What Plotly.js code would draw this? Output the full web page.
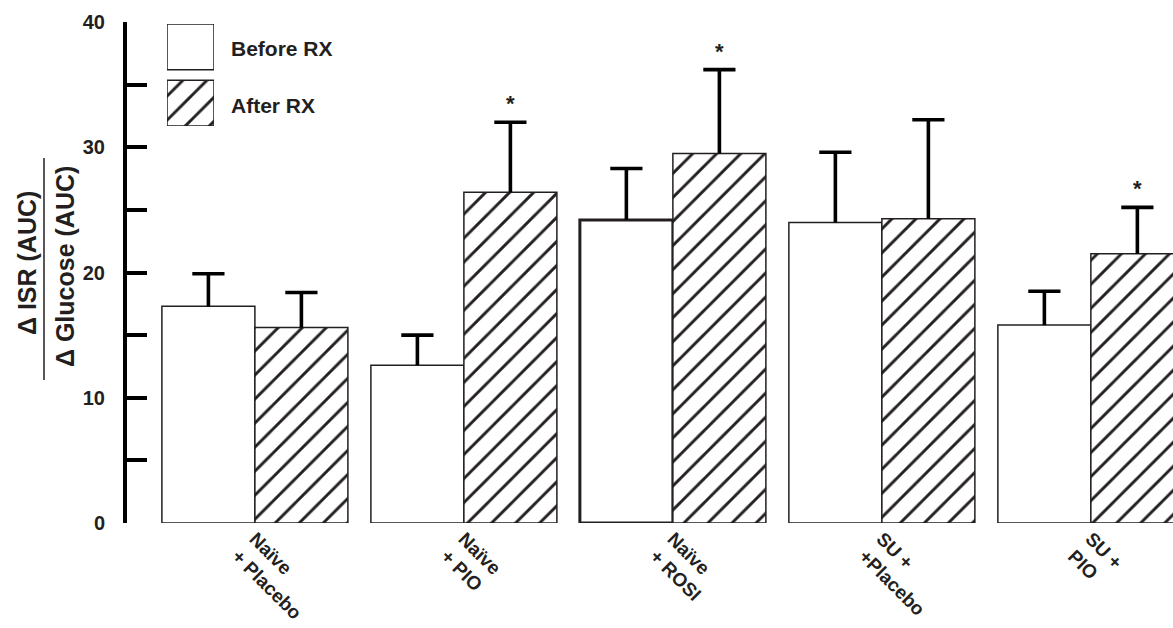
<!DOCTYPE html>
<html>
<head>
<meta charset="utf-8">
<script src="https://cdn.plot.ly/plotly-3.0.1.min.js"></script>
<style>html,body{margin:0;padding:0;background:#fff;overflow:hidden}</style>
</head>
<body>
<div id="chart" style="width:1173px;height:628px"></div>
<script>
// ---- data ----
const categories = ['Naïve<br>+ Placebo', 'Naïve<br>+ PIO', 'Naïve<br>+ ROSI', 'SU +<br>+Placebo', 'SU +<br>PIO'];
const seriesNames = ['Before RX', 'After RX'];
const beforeRX = [17.3, 12.6, 24.2, 24.0, 15.8];
const beforeSEM = [2.6, 2.4, 4.1, 5.6, 2.7];
const afterRX = [15.6, 26.4, 29.5, 24.3, 21.5];
const afterSEM = [2.8, 5.6, 6.7, 7.9, 3.7];
const significant = [false, true, true, false, true];
const yTickVals = [0, 5, 10, 15, 20, 25, 30, 35, 40];
const yTickText = ['0', '', '10', '', '20', '', '30', '', '40'];

// ---- geometry helpers (plot area in pixels) ----
const L = 127, T = 22, W = 1046, H = 501;
const px = x => (x - L) / W;
const py = y => (T + H - y) / H;
const ink = '#231f20';
const FONT = 'Liberation Sans, Arial, Helvetica, sans-serif';
const bargap = 0.11;
const barW = (1 - bargap) / 2;
const idx = categories.map((c, i) => i);
const hatch = {shape: '/', size: 17, solidity: 0.17, fgcolor: ink, bgcolor: '#ffffff', fillmode: 'replace'};

const stem = arr => ({type: 'data', symmetric: false, array: arr, arrayminus: arr.map(() => 0),
  color: '#000', thickness: 3.6, width: 0});
const capTrace = (offset, vals, sem) => ({type: 'scatter', mode: 'markers',
  x: idx.map(i => i + offset), y: vals.map((v, i) => v + sem[i]),
  marker: {symbol: 'line-ew-open', size: 23, color: '#000', line: {color: '#000', width: 3.6}},
  showlegend: false, hoverinfo: 'skip', cliponaxis: true});

const traces = [
  {type: 'bar', name: seriesNames[0], x: idx, y: beforeRX,
   marker: {color: '#ffffff', line: {color: ink, width: [1.5, 1.5, 3, 1.5, 1.5]}},
   error_y: stem(beforeSEM), showlegend: false, hoverinfo: 'skip'},
  {type: 'bar', name: seriesNames[1], x: idx, y: afterRX,
   marker: {color: '#ffffff', pattern: hatch, line: {color: ink, width: 1.5}},
   error_y: stem(afterSEM), showlegend: false, hoverinfo: 'skip'},
  capTrace(-barW / 2, beforeRX, beforeSEM),
  capTrace(barW / 2, afterRX, afterSEM),
  // legend swatches
  {type: 'bar', orientation: 'h', x: [1, 1], y: [0, 1], width: 0.814, xaxis: 'x2', yaxis: 'y2',
   marker: {color: '#ffffff', pattern: {shape: ['/', ''], size: 17, solidity: 0.17, fgcolor: ink, bgcolor: '#ffffff', fillmode: 'replace'},
            line: {color: ink, width: 1.5}},
   showlegend: false, hoverinfo: 'skip'}
];

const annotations = [];
significant.forEach((s, i) => {
  if (s) annotations.push({x: i + barW / 2, y: afterRX[i] + afterSEM[i], xref: 'x', yref: 'y',
    text: '*', showarrow: false, yanchor: 'bottom', yshift: 4,
    font: {family: FONT, size: 22, color: ink, weight: 'bold'}});
});
// legend labels
annotations.push({x: px(229), y: py(49), xref: 'paper', yref: 'paper', xanchor: 'left', yanchor: 'middle',
  text: seriesNames[0], showarrow: false, font: {family: FONT, size: 21, color: ink, weight: 'bold'}});
annotations.push({x: px(229), y: py(105), xref: 'paper', yref: 'paper', xanchor: 'left', yanchor: 'middle',
  text: seriesNames[1], showarrow: false, font: {family: FONT, size: 21, color: ink, weight: 'bold'}});
// y title (fraction)
annotations.push({x: px(27), y: py(263), xref: 'paper', yref: 'paper', xanchor: 'center', yanchor: 'middle',
  text: 'Δ ISR (AUC)', textangle: -90, showarrow: false, font: {family: FONT, size: 25, color: ink, weight: 'bold'}});
annotations.push({x: px(65), y: py(267), xref: 'paper', yref: 'paper', xanchor: 'center', yanchor: 'middle',
  text: 'Δ Glucose (AUC)', textangle: -90, showarrow: false, font: {family: FONT, size: 25, color: ink, weight: 'bold'}});

const layout = {
  width: 1173, height: 628,
  margin: {l: L, r: 0, t: T, b: 628 - T - H, pad: 0},
  paper_bgcolor: '#fff', plot_bgcolor: '#fff',
  barmode: 'group', bargap: bargap, bargroupgap: 0,
  font: {family: FONT, color: ink},
  xaxis: {type: 'linear', range: [-0.612, 4.393], tickvals: idx, ticktext: categories,
    showline: false, ticks: '', showgrid: false, zeroline: false, ticklabelstandoff: 0,
    tickangle: 45, tickfont: {family: FONT, size: 19, color: ink, weight: 'bold'}, fixedrange: true},
  yaxis: {range: [0, 40], tickvals: yTickVals, ticktext: yTickText, ticks: 'inside', ticklen: 20, tickwidth: 4,
    tickcolor: '#000', showline: true, linewidth: 4, linecolor: '#000', showgrid: false, zeroline: false,
    ticklabelstandoff: 14, tickfont: {family: FONT, size: 20, color: ink, weight: 'bold'}, fixedrange: true},
  xaxis2: {domain: [px(167), px(214)], range: [0, 1], visible: false, anchor: 'y2', fixedrange: true},
  yaxis2: {domain: [py(126), py(24)], range: [-0.407, 1.407], visible: false, anchor: 'x2', fixedrange: true},
  shapes: [{type: 'line', xref: 'paper', yref: 'paper', x0: px(44), x1: px(44), y0: py(158), y1: py(380),
    line: {color: ink, width: 1.5}}],
  annotations: annotations,
  showlegend: false
};

Plotly.newPlot('chart', traces, layout, {displayModeBar: false, staticPlot: true});
</script>
</body>
</html>
